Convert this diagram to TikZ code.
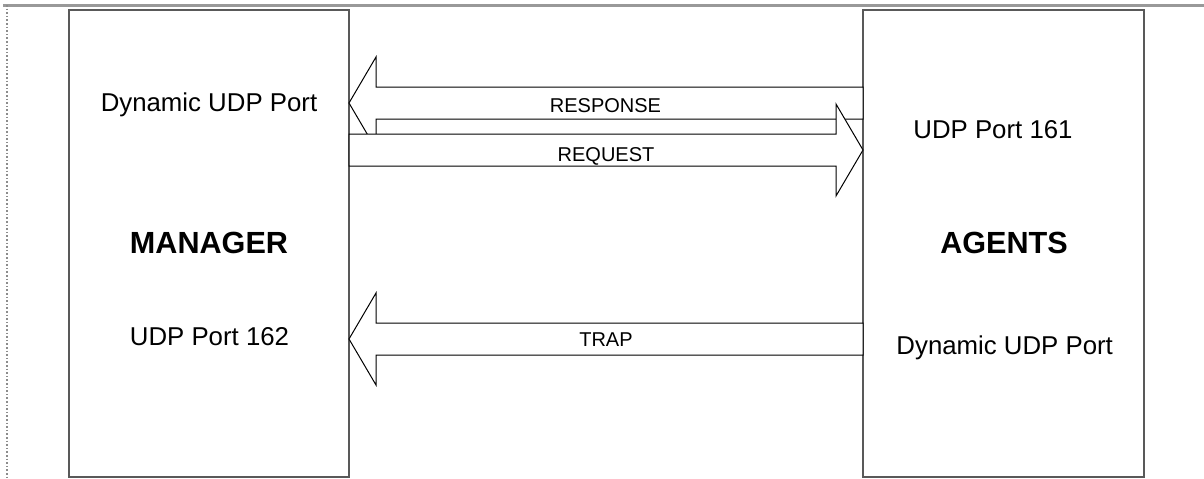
\documentclass[tikz,border=0pt]{standalone}
\usepackage{fontspec}
\setmainfont{Liberation Sans}
\usetikzlibrary{positioning,calc}

\begin{document}
\begin{tikzpicture}[
  x=0.5pt, y=-0.5pt,
  hostbox/.style={rectangle, draw=black!65, line width=0.8pt, minimum width=140pt, minimum height=233.5pt, inner sep=0pt, outer sep=0pt},
  flow/.style={draw=black, fill=white, line width=0.5pt, line join=miter},
  porttext/.style={anchor=base, inner sep=0pt, font=\fontsize{12.9}{15}\selectfont},
  hosttext/.style={anchor=base, inner sep=0pt, font=\bfseries\fontsize{15.3}{18}\selectfont},
  flowtext/.style={anchor=base, inner sep=0pt, font=\fontsize{10}{12}\selectfont}
]
\useasboundingbox (0,0) rectangle (1204,478);
% page rules
\draw[black!40, line width=1.5pt] (3,5) -- (1204,5);
\draw[black!45, densely dotted, line width=0.8pt] (7,5) -- (7,478);
% the two hosts
\node[hostbox] (manager) at (209,243.5) {};
\node[hostbox, minimum width=140.5pt] (agents) at (1003.5,243.5) {};
% end points of the three flows
\coordinate (respTip) at (manager.east |- 0,103);
\coordinate (respEnd) at (agents.west |- 0,103);
\coordinate (reqTail) at (manager.east |- 0,150);
\coordinate (reqTip) at (agents.west |- 0,150);
\coordinate (trapTip) at (manager.east |- 0,339);
\coordinate (trapEnd) at (agents.west |- 0,339);
% agents -> manager
\draw[flow] (respTip) -- ++(27,-46) -- ++(0,30) -- ($(respEnd)+(0,-16)$) -- ++(0,32)
  -- ($(respTip)+(27,16)$) -- ++(0,30) -- cycle;
% manager -> agents
\draw[flow] (reqTip) -- ++(-27,-46) -- ++(0,30) -- ($(reqTail)+(0,-16)$) -- ++(0,32)
  -- ($(reqTip)+(-27,16)$) -- ++(0,30) -- cycle;
% trap, agents -> manager
\draw[flow] (trapTip) -- ++(27,-46) -- ++(0,30) -- ($(trapEnd)+(0,-16)$) -- ++(0,32)
  -- ($(trapTip)+(27,16)$) -- ++(0,30) -- cycle;
% flow labels
\node[flowtext] (resplabel) at (605.5,112) {RESPONSE};
\node[flowtext] (reqlabel) at (606,161) {REQUEST};
\node[flowtext] (traplabel) at (606,346) {TRAP};
% host texts
\node[porttext] (mgrdyn) at (209,111) {Dynamic UDP Port};
\node[hosttext] (mgrname) at (209,253.3) {MANAGER};
\node[porttext] (mgrport) at (209.5,345.7) {UDP Port 162};
\node[porttext] (agtport) at (993,138.3) {UDP Port 161};
\node[hosttext] (agtname) at (1004,253) {AGENTS};
\node[porttext] (agtdyn) at (1004.7,354) {Dynamic UDP Port};
\end{tikzpicture}
\end{document}
